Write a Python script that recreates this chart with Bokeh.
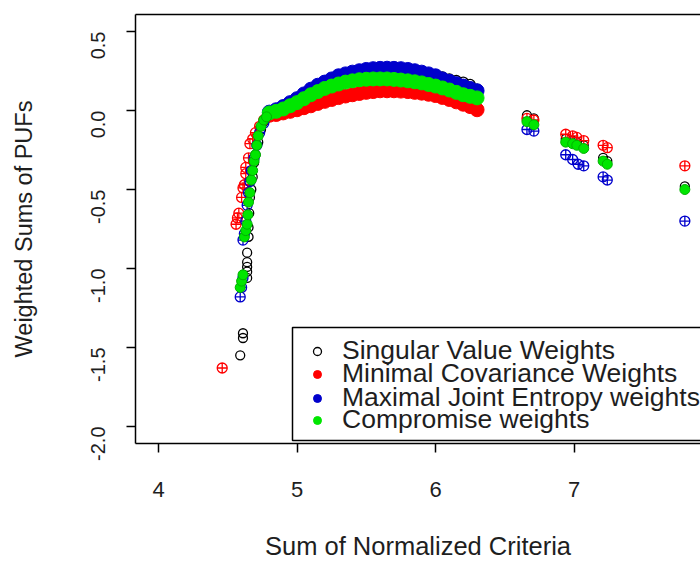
import math
from bokeh.plotting import figure
from bokeh.models import Range1d, FixedTicker, LinearAxis, Legend, LegendItem, BoxAnnotation
from bokeh.embed import file_html
from bokeh.resources import INLINE

# ---------------- data ----------------
x_ticks = [4, 5, 6, 7]
y_ticks = [-2.0, -1.5, -1.0, -0.5, 0.0, 0.5]
y_tick_labels = ["-2.0", "-1.5", "-1.0", "-0.5", "0.0", "0.5"]
x_label = "Sum of Normalized Criteria"
y_label = "Weighted Sums of PUFs"
series_names = ["Singular Value Weights", "Minimal Covariance Weights",
                "Maximal Joint Entropy weights", "Compromise weights"]

# dense central arc (shared x grid)
hump_x = [4.80, 4.85, 4.90, 4.95, 5.00, 5.05, 5.10, 5.15, 5.20, 5.25, 5.30,
          5.35, 5.40, 5.45, 5.50, 5.55, 5.60, 5.65, 5.70, 5.75, 5.80, 5.85,
          5.90, 5.95, 6.00, 6.05, 6.10, 6.15, 6.20, 6.25, 6.30]
hump_black = [-0.005, 0.01, 0.03, 0.055, 0.08, 0.105, 0.13, 0.155, 0.175, 0.195, 0.215,
              0.228, 0.24, 0.25, 0.256, 0.262, 0.265, 0.266, 0.265, 0.263, 0.258, 0.252,
              0.244, 0.235, 0.225, 0.213, 0.20, 0.19, 0.18, 0.165, 0.135]
hump_red = [-0.03, -0.025, -0.015, -0.005, 0.005, 0.018, 0.03, 0.045, 0.058, 0.07, 0.082,
            0.092, 0.10, 0.108, 0.115, 0.12, 0.125, 0.125, 0.125, 0.123, 0.12, 0.115,
            0.11, 0.103, 0.095, 0.083, 0.07, 0.055, 0.04, 0.025, 0.005]
hump_blue = [-0.01, 0.005, 0.025, 0.05, 0.075, 0.105, 0.135, 0.16, 0.18, 0.20, 0.22,
             0.232, 0.243, 0.252, 0.26, 0.265, 0.267, 0.268, 0.267, 0.265, 0.26, 0.252,
             0.243, 0.232, 0.22, 0.20, 0.185, 0.17, 0.155, 0.14, 0.125]
hump_green = [-0.015, -0.005, 0.01, 0.03, 0.05, 0.075, 0.10, 0.12, 0.14, 0.155, 0.168,
              0.18, 0.188, 0.195, 0.198, 0.20, 0.20, 0.20, 0.197, 0.193, 0.188, 0.182,
              0.175, 0.165, 0.155, 0.143, 0.13, 0.115, 0.10, 0.09, 0.08]

# steep left part and isolated points on the right
black_x = [4.59, 4.61, 4.61, 4.64, 4.64, 4.64, 4.64, 4.64, 4.65, 4.65, 4.655, 4.66, 4.67,
           4.68, 4.69, 4.70, 4.72, 4.74, 4.76, 4.78,
           6.66, 6.71, 6.94, 6.99, 7.02, 7.07, 7.21, 7.24, 7.80]
black_y = [-1.55, -1.44, -1.41, -1.06, -1.02, -0.99, -0.96, -0.90, -0.80, -0.74, -0.65, -0.55, -0.50,
           -0.42, -0.33, -0.28, -0.20, -0.12, -0.07, -0.05,
           -0.03, -0.05, -0.18, -0.19, -0.20, -0.22, -0.30, -0.32, -0.48]
red_x = [4.46, 4.56, 4.57, 4.58, 4.60, 4.61, 4.62, 4.63, 4.63, 4.65, 4.66, 4.68, 4.70,
         4.73, 4.76,
         6.66, 6.71, 6.94, 6.99, 7.02, 7.07, 7.21, 7.24, 7.80]
red_y = [-1.63, -0.72, -0.68, -0.65, -0.55, -0.49, -0.47, -0.40, -0.36, -0.30, -0.21, -0.18, -0.14,
         -0.10, -0.06,
         -0.05, -0.06, -0.15, -0.16, -0.17, -0.19, -0.22, -0.235, -0.35]
blue_x = [4.59, 4.60, 4.61, 4.61, 4.62, 4.63, 4.64, 4.65, 4.66, 4.67, 4.69, 4.71, 4.73, 4.76,
          6.66, 6.71, 6.94, 6.99, 7.03, 7.07, 7.21, 7.24, 7.80]
blue_y = [-1.18, -1.12, -1.06, -0.82, -0.78, -0.70, -0.60, -0.52, -0.45, -0.38, -0.30, -0.22, -0.14, -0.08,
          -0.12, -0.13, -0.28, -0.31, -0.34, -0.35, -0.42, -0.44, -0.70]
green_x = [4.59, 4.60, 4.61, 4.62, 4.63, 4.64, 4.645, 4.65, 4.66, 4.67, 4.68, 4.69, 4.70, 4.71,
           4.72, 4.74, 4.76, 4.78,
           6.66, 6.71, 6.94, 6.99, 7.02, 7.07, 7.21, 7.24, 7.80]
green_y = [-1.12, -1.08, -1.04, -0.80, -0.76, -0.72, -0.66, -0.58, -0.52, -0.44, -0.38, -0.32, -0.28, -0.22,
           -0.16, -0.10, -0.06, -0.04,
           -0.07, -0.09, -0.20, -0.21, -0.22, -0.24, -0.32, -0.34, -0.50]

# ---------------- style ----------------
FONT = "Liberation Sans"
TXT = "#1e1e1e"
RED = "#ff0000"
BLUE = "#0000cc"
GREEN = "#00e600"

p = figure(width=700, height=563, output_backend="svg", toolbar_location=None,
           x_range=Range1d(3.834, 7.913), y_range=Range1d(-2.108, 0.608),
           min_border_left=135, min_border_right=0, min_border_top=14, min_border_bottom=120,
           x_axis_location=None, y_axis_location=None)
p.grid.visible = False
p.outline_line_color = None
p.background_fill_color = "white"
p.border_fill_color = "white"

xaxis = LinearAxis(ticker=FixedTicker(ticks=x_ticks), axis_label=x_label)
yaxis = LinearAxis(ticker=FixedTicker(ticks=y_ticks), axis_label=y_label,
                   major_label_overrides={t: s for t, s in zip(y_ticks, y_tick_labels)})
topaxis = LinearAxis(ticker=FixedTicker(ticks=[]), major_label_text_font_size="0px")
for ax in (xaxis, yaxis, topaxis):
    ax.axis_line_color = "black"
    ax.axis_line_width = 1.5
    ax.major_tick_line_color = "black"
    ax.major_tick_line_width = 1.5
    ax.major_tick_in = 0
    ax.major_tick_out = 9
    ax.minor_tick_line_color = None
    ax.major_label_text_font = FONT
    ax.major_label_text_color = TXT
    ax.axis_label_text_font = FONT
    ax.axis_label_text_color = TXT
    ax.axis_label_text_font_style = "normal"
topaxis.major_tick_out = 0

xaxis.major_label_text_font_size = "22px"
xaxis.major_label_standoff = 29
xaxis.axis_label_text_font_size = "25.5px"
xaxis.axis_label_standoff = 32

yaxis.major_label_text_font_size = "20px"
yaxis.major_label_orientation = math.pi / 2
yaxis.major_label_standoff = 28
yaxis.axis_label_text_font_size = "23.5px"
yaxis.axis_label_standoff = 45

p.add_layout(xaxis, "below")
p.add_layout(yaxis, "left")
p.add_layout(topaxis, "above")

# points: Singular value (black open circles) first, then red, blue, green
p.scatter(hump_x, hump_black, marker="circle", size=10, fill_color=None,
          line_color="black", line_width=1.3)
p.scatter(black_x, black_y, marker="circle", size=9, fill_color=None,
          line_color="black", line_width=1.3)

p.scatter(hump_x, hump_red, marker="circle", size=14, fill_color=RED, line_color=RED)
p.scatter(red_x, red_y, marker="circle_cross", size=10, fill_color=None,
          line_color=RED, line_width=1.3)

p.scatter(hump_x, hump_blue, marker="circle", size=14, fill_color=BLUE, line_color=BLUE)
p.scatter(blue_x, blue_y, marker="circle_cross", size=10, fill_color=None,
          line_color=BLUE, line_width=1.3)

p.scatter(hump_x, hump_green, marker="circle", size=14, fill_color=GREEN, line_color=GREEN)
p.scatter(green_x, green_y, marker="circle", size=10, fill_color=GREEN,
          line_color="#00b000", line_width=1)

# legend glyphs (zero-size on the plot; the legend draws its own symbol size)
lg = [
    p.scatter(black_x[:1], black_y[:1], marker="circle", size=0, fill_color=None,
              line_color="black", line_width=1.3),
    p.scatter(red_x[:1], red_y[:1], marker="circle", size=0, fill_color=RED, line_color=RED),
    p.scatter(blue_x[:1], blue_y[:1], marker="circle", size=0, fill_color=BLUE, line_color=BLUE),
    p.scatter(green_x[:1], green_y[:1], marker="circle", size=0, fill_color=GREEN, line_color=GREEN),
]

# legend frame (screen units relative to the plot frame)
box = BoxAnnotation(left=157, right=600, bottom=3, top=116,
                    left_units="screen", right_units="screen",
                    top_units="screen", bottom_units="screen",
                    fill_color="white", fill_alpha=1.0,
                    line_color="black", line_width=1.5, line_alpha=1.0)
p.add_layout(box)

# one legend per row so the rows can sit as tightly as in the original
row_bottoms = [77, 54, 30, 8]
for name, r, yb in zip(series_names, lg, row_bottoms):
    leg = Legend(items=[LegendItem(label=name, renderers=[r])],
                 location=(164, yb), orientation="vertical",
                 label_text_font=FONT, label_text_font_size="26.5px", label_text_color=TXT,
                 glyph_width=36, glyph_height=20, label_height=20, label_standoff=7,
                 spacing=0, padding=0, margin=0,
                 border_line_color=None, background_fill_alpha=0.0)
    p.add_layout(leg, "center")

open("out.html", "w").write(file_html(p, INLINE))
